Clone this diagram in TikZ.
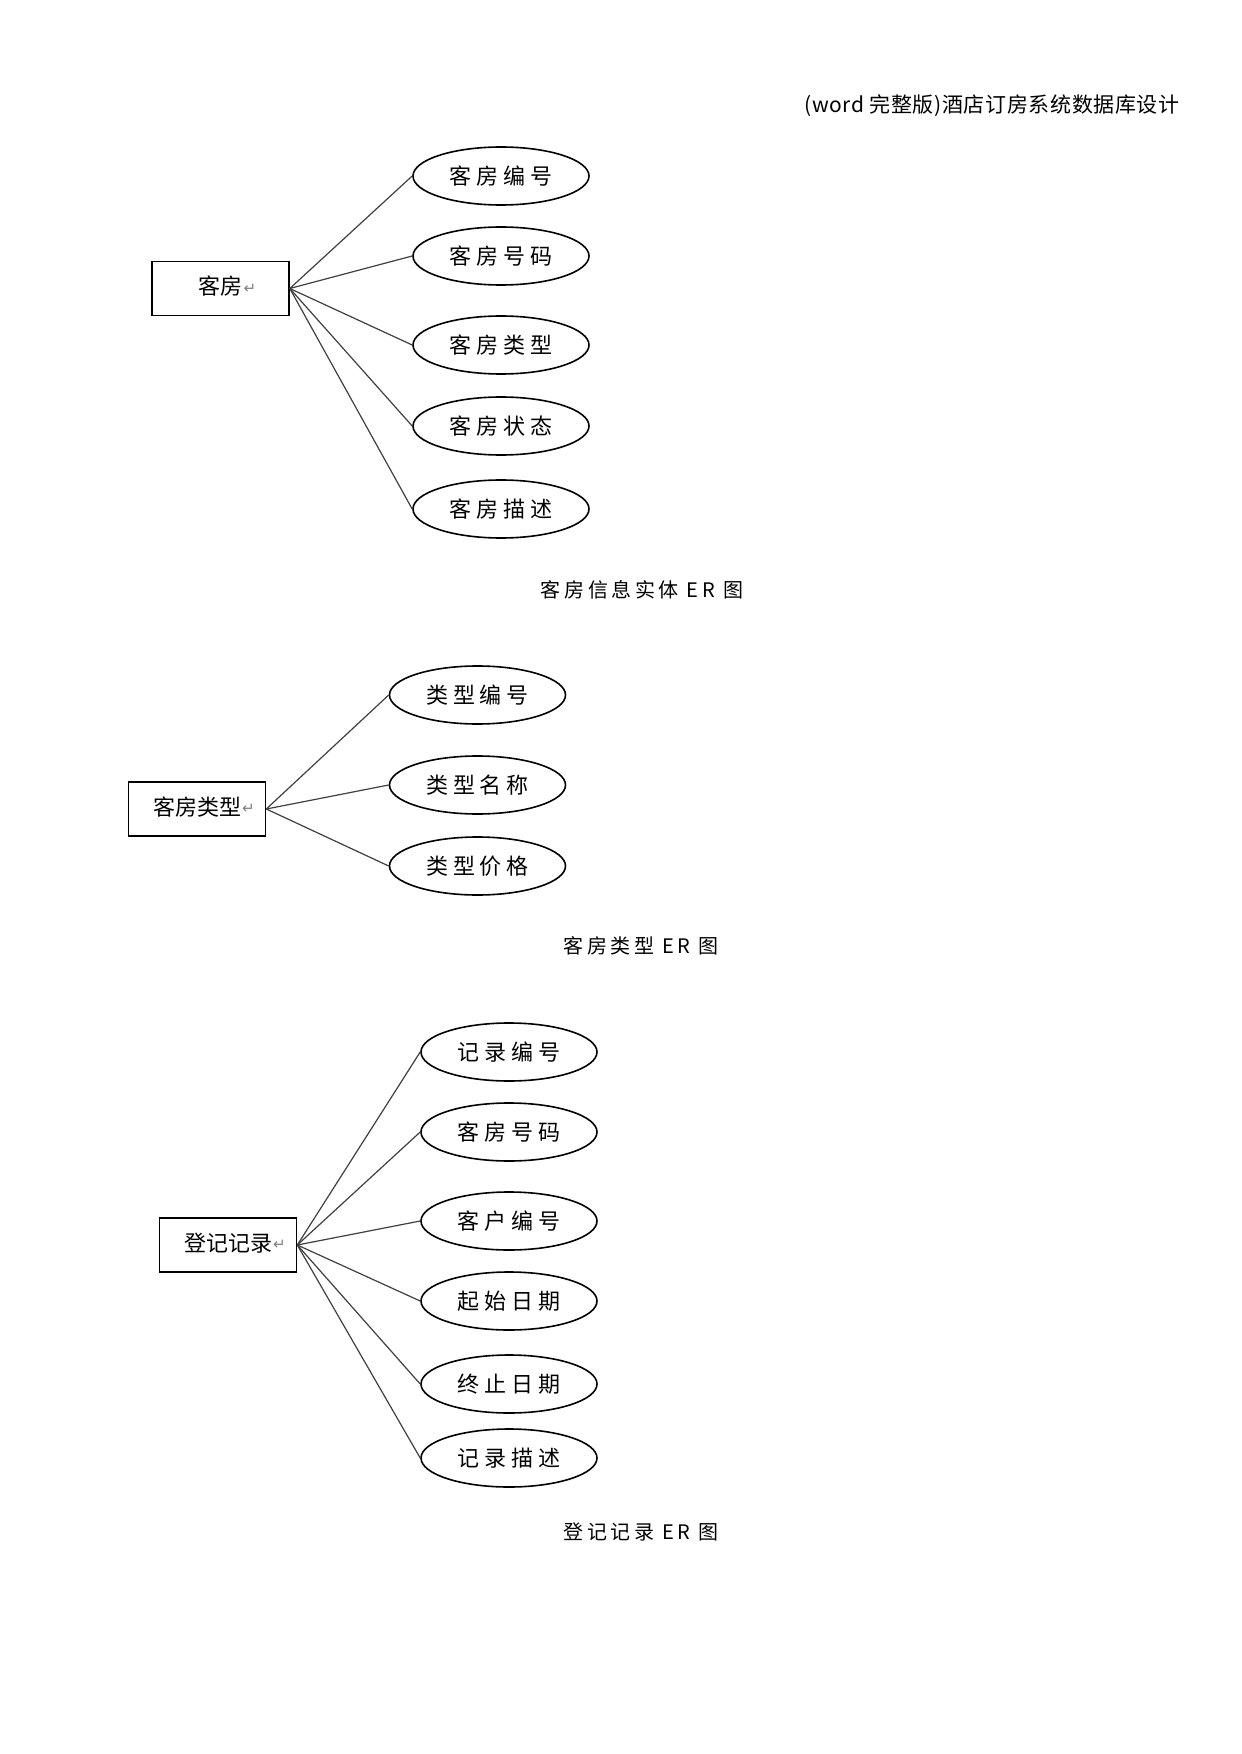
\documentclass[tikz,border=0pt]{standalone}
\usepackage{fontspec}
\setmainfont{Noto Sans CJK SC}
\newfontfamily\cjk{Noto Sans CJK SC}
\newfontfamily\hdrf[LetterSpace=3]{Noto Sans CJK SC}
\newfontfamily\cjksp[LetterSpace=22]{Noto Sans CJK SC}
\newfontfamily\capf[LetterSpace=18]{Noto Sans CJK SC}
\newfontfamily\symf{DejaVu Sans}
\usetikzlibrary{shapes.geometric}
\newcommand{\retmark}{\rlap{\kern0.5pt\raisebox{0.8pt}{\symf\fontsize{7.5}{7.5}\selectfont\color{black!50}↵}}}
\newcommand{\etext}[1]{\raisebox{3pt}{#1\retmark}}
\begin{document}
\begin{tikzpicture}[x=0.5pt,y=-0.5pt,
  attr/.style={ellipse, draw, line width=0.8pt, minimum width=88pt, minimum height=29pt, inner sep=0pt,
    font=\cjksp\fontsize{11}{13}\selectfont},
  entity/.style={rectangle, draw, line width=0.8pt, minimum width=68.5pt, minimum height=27pt, inner sep=0pt,
    font=\cjk\fontsize{11}{13}\selectfont},
  link/.style={draw=black!75, line width=0.6pt},
  caption/.style={inner sep=0pt, font=\capf\fontsize{10}{12}\selectfont},
  header/.style={inner sep=0pt, anchor=east, font=\hdrf\fontsize{10.5}{12}\selectfont}]
\useasboundingbox (0,0) rectangle (1241,1754);
\fill[white] (0,0) rectangle (1241,1754);

\node[header] (hdr) at (1180,106) {(word 完整版)酒店订房系统数据库设计};

% Diagram 1
\node[entity] (kf) at (220.5,288.5) {\etext{客房}};
\node[attr] (a1) at (501,176) {客房编号};
\node[attr] (a2) at (501,256) {客房号码};
\node[attr] (a3) at (501,345) {客房类型};
\node[attr] (a4) at (501,426) {客房状态};
\node[attr] (a5) at (501,509) {客房描述};
\foreach \n in {a1,a2,a3,a4,a5} \draw[link] (kf.east) -- (\n.west);
\node[caption] (c1) at (642,590) {客房信息实体 ER 图};

% Diagram 2
\node[entity] (lx) at (197,809) {\etext{客房类型}};
\node[attr] (b1) at (477.5,695) {类型编号};
\node[attr] (b2) at (477.5,785) {类型名称};
\node[attr] (b3) at (477.5,866) {类型价格};
\foreach \n in {b1,b2,b3} \draw[link] (lx.east) -- (\n.west);
\node[caption] (c2) at (641,946) {客房类型 ER 图};

% Diagram 3
\node[entity] (dj) at (228,1245) {\etext{登记记录}};
\node[attr] (d1) at (509,1052) {记录编号};
\node[attr] (d2) at (509,1132) {客房号码};
\node[attr] (d3) at (509,1221) {客户编号};
\node[attr] (d4) at (509,1301) {起始日期};
\node[attr] (d5) at (509,1384) {终止日期};
\node[attr] (d6) at (509,1458) {记录描述};
\foreach \n in {d1,d2,d3,d4,d5,d6} \draw[link] (dj.east) -- (\n.west);
\node[caption] (c3) at (641,1532) {登记记录 ER 图};
\end{tikzpicture}
\end{document}
